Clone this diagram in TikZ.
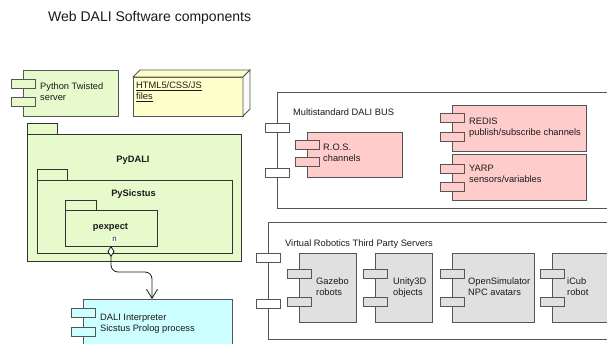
\documentclass[tikz,border=0pt]{standalone}
\usepackage{fontspec}
\setmainfont{Liberation Sans}
\usetikzlibrary{arrows.meta}
\definecolor{cgreen}{HTML}{E6FACC}
\definecolor{cyellow}{HTML}{FFFFCC}
\definecolor{cpink}{HTML}{FFCCCC}
\definecolor{cgray}{HTML}{E0E0E0}
\definecolor{ccyan}{HTML}{CCFFFF}
\definecolor{linec}{HTML}{555555}
\definecolor{textc}{HTML}{1A1A1A}
\tikzset{
  box/.style={draw=linec, line width=0.8pt, inner sep=0pt, outer sep=0pt, anchor=north west},
  tab/.style={box, minimum width=24pt, minimum height=9pt},
  txt/.style={font=\fontsize{9.3}{11}\selectfont, text=textc, inner sep=0pt, anchor=base west, align=left},
  btxt/.style={font=\fontsize{9.3}{11}\selectfont\bfseries, text=textc, inner sep=0pt, anchor=base},
}
\newcommand\comp[8]{%
  \node[box, fill=#2, minimum width={#5-#3}, minimum height={#6-#4}] (#1) at (#3,#4) {};
  \node[tab, fill=#2] (#1t1) at ({#3-12},#7) {};
  \node[tab, fill=#2] (#1t2) at ({#3-12},#8) {};}
\newcommand\pkg[7]{%
  \node[box, draw=black!80, fill=cgreen, minimum width={#3-#2}, minimum height={#5-#4}] (#1tab) at (#2,#4) {};
  \node[box, draw=black!80, fill=cgreen, minimum width={#6-#2}, minimum height={#7-#5}] (#1) at (#2,#5) {};}
\begin{document}
\begin{tikzpicture}[x=1pt,y=-1pt]
\useasboundingbox (0,0) rectangle (607,343);
\clip (0,0) rectangle (607,343);
\fill[white] (0,0) rectangle (607,343);
\node[font=\fontsize{14}{16}\selectfont, text=textc, inner sep=0pt, anchor=base west] (title) at (48,21.5) {Web DALI Software components};

% Python Twisted server
\comp{py}{cgreen}{23}{70}{118}{116}{79}{97}
\node[txt] (pyl) at (40,100.5) {Python Twisted\\server};

% HTML files (3D box)
\node[box, fill=cyellow, minimum width=110pt, minimum height=39pt] (html) at (133,77) {};
\draw[draw=linec, line width=0.8pt, fill=cyellow] (html.north west) -- ++(7,-7) -- ++(110,0) -- (html.north east) -- cycle;
\draw[draw=linec, line width=0.8pt, fill=cyellow!85!black!10] (html.north east) -- ++(7,-7) -- ++(0,39) -- (html.south east) -- cycle;
\node[txt] (htmll) at (136,99.5) {\underline{HTML5/CSS/JS}\\\underline{files}};

% Packages
\pkg{pyd}{27}{57}{123}{134}{241}{261}
\node[btxt] (pydl) at (133,162) {PyDALI};
\pkg{pys}{37}{67}{169}{180}{232}{253}
\node[btxt] (pysl) at (133.5,196.5) {PySicstus};
\pkg{pex}{65}{96}{200}{210}{157}{246}
\node[btxt] (pexl) at (110.5,229.5) {pexpect};
\node[fill=white, inner sep=0.8pt, font=\fontsize{8}{9}\selectfont, text=textc, anchor=base] (nl) at (114.5,241.5) {n};

% DALI interpreter
\comp{dali}{ccyan}{83}{299}{232}{360}{308}{327}
\node[txt] (dalil) at (100,331) {DALI Interpreter\\Sicstus Prolog process};

% connector
\coordinate (bend) at (152,272);
\draw[line width=0.8pt, draw=textc, rounded corners=7pt,
  {Diamond[fill=white,length=11pt,width=7pt]}-{Straight Barb[length=9pt,width=11pt]}]
  (pex.south) |- (bend) -- (bend |- dali.north);

% Multistandard DALI BUS
\comp{bus}{white}{277}{92}{620}{208}{123}{168}
\node[txt] (busl) at (293,115) {Multistandard DALI BUS};
\comp{ros}{cpink}{307}{132}{402}{177}{140}{157}
\node[txt] (rosl) at (323,161.5) {R.O.S.\\channels};
\comp{redis}{cpink}{452}{105}{586}{151}{113}{132}
\node[txt] (redisl) at (469,135) {REDIS\\publish/subscribe channels};
\comp{yarp}{cpink}{452}{154}{586}{200}{164}{182}
\node[txt] (yarpl) at (469,182.5) {YARP\\sensors/variables};

% Virtual Robotics
\comp{virt}{white}{268}{222}{620}{339}{253}{299}
\node[txt] (virtl) at (285,246) {Virtual Robotics Third Party Servers};
\comp{gaz}{cgray}{299}{253}{356}{322}{269}{297}
\node[txt] (gazl) at (316,295) {Gazebo\\robots};
\comp{uni}{cgray}{375}{253}{432}{322}{269}{297}
\node[txt] (unil) at (393,295) {Unity3D\\objects};
\comp{ops}{cgray}{452}{253}{534}{322}{269}{297}
\node[txt] (opsl) at (468,295) {OpenSimulator\\NPC avatars};
\comp{icub}{cgray}{552}{253}{620}{322}{269}{297}
\node[txt] (icubl) at (567,295) {iCub\\robot};
\end{tikzpicture}
\end{document}
